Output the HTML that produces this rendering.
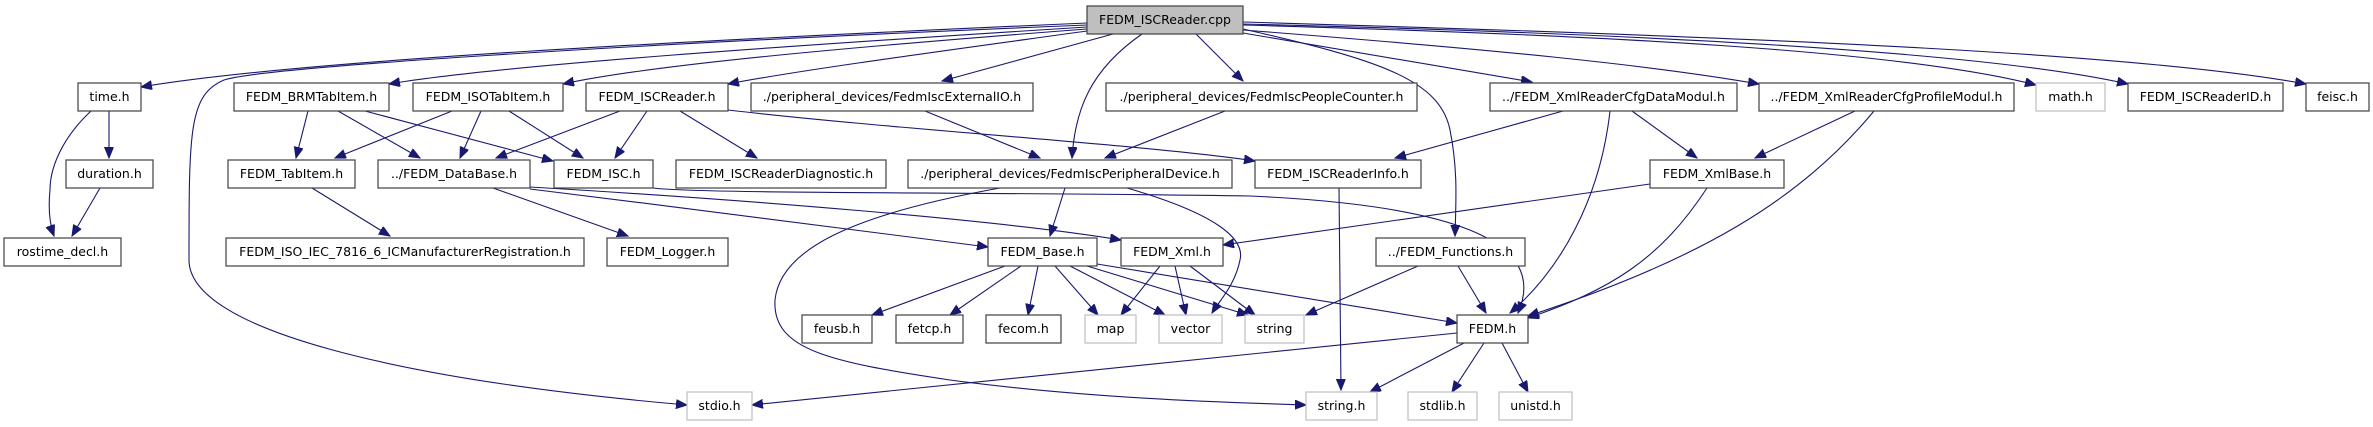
<!DOCTYPE html>
<html><head><meta charset="utf-8"><style>
html,body{margin:0;padding:0;background:#fff;}
svg{display:block;}
text{font-family:"DejaVu Sans","Liberation Sans",sans-serif;font-size:12.5px;fill:#000;}
.n{fill:#fff;stroke:#404040;stroke-width:1.2;}
.g{fill:#fff;stroke:#bfbfbf;stroke-width:1.2;}
.e{fill:none;stroke:#191970;stroke-width:1.1;}
</style></head><body>
<svg width="2373" height="427" viewBox="0 0 2373 427" xmlns="http://www.w3.org/2000/svg">
<defs>
<marker id="a" markerUnits="userSpaceOnUse" markerWidth="12" markerHeight="10" refX="11" refY="4.5" orient="auto">
<path d="M0,0 L11,4.5 L0,9 z" fill="#191970" stroke="#191970"/>
</marker>
</defs>
<g class="e" marker-end="url(#a)">
<path d="M1087,23 C700,40 300,60 141,87"/>
<path d="M1087,25 C600,45 260,68 224,80 C189,95 189,130 189,260 C189,330 400,380 687,405"/>
<path d="M1087,27 C800,45 500,65 389,84"/>
<path d="M1087,29 C850,47 650,65 563,84"/>
<path d="M1087,31 C950,50 800,70 728,84"/>
<path d="M1113,34 L942,81"/>
<path d="M1142,34 C1090,70 1075,110 1072,158"/>
<path d="M1196,34 L1243,81"/>
<path d="M1243,29 C1380,60 1440,80 1450,130 C1458,170 1456,200 1455,236"/>
<path d="M1243,33 L1532,82"/>
<path d="M1243,30 C1500,50 1650,65 1759,84"/>
<path d="M1243,25 C1600,35 1900,50 2036,85"/>
<path d="M1243,24 C1700,35 2000,55 2128,84"/>
<path d="M1243,22 C1800,38 2150,55 2306,84"/>
<path d="M109,111 L109,158"/>
<path d="M91,111 C60,140 50,170 50,190 C48,210 50,225 54,236"/>
<path d="M100,188 L72,236"/>
<path d="M308,111 L296,158"/>
<path d="M338,111 L420,158"/>
<path d="M365,111 L553,161"/>
<path d="M452,111 L335,158"/>
<path d="M481,111 L460,158"/>
<path d="M509,111 L583,158"/>
<path d="M620,111 L496,158"/>
<path d="M647,111 L615,158"/>
<path d="M680,111 L757,158"/>
<path d="M728,110 C900,130 1150,145 1255,161"/>
<path d="M312,188 L390,236"/>
<path d="M493,188 L628,236"/>
<path d="M530,189 C700,210 900,235 988,247"/>
<path d="M530,187 C750,200 1000,220 1121,240"/>
<path d="M925,111 L1040,158"/>
<path d="M1225,111 L1105,158"/>
<path d="M1065,188 L1050,236"/>
<path d="M1000,188 C850,215 780,250 775,300 C772,350 830,362 950,380 C1100,400 1250,403 1306,405"/>
<path d="M1127,188 C1220,215 1245,240 1240,260 C1235,285 1220,300 1212,313"/>
<path d="M1339,188 L1341,390"/>
<path d="M1563,111 L1395,158"/>
<path d="M1632,111 L1697,158"/>
<path d="M1610,111 C1600,200 1560,270 1510,313"/>
<path d="M1855,111 L1755,158"/>
<path d="M1874,111 C1800,200 1700,260 1528,316"/>
<path d="M1650,184 L1223,245"/>
<path d="M1707,188 C1660,260 1610,290 1528,318"/>
<path d="M653,188 C700,194 1000,192 1250,196 C1450,205 1550,240 1518,313"/>
<path d="M1005,266 L872,315"/>
<path d="M1021,266 L950,315"/>
<path d="M1038,266 L1028,315"/>
<path d="M1055,266 L1098,315"/>
<path d="M1070,266 L1165,315"/>
<path d="M1087,266 L1248,315"/>
<path d="M1097,264 L1457,323"/>
<path d="M1160,266 L1121,315"/>
<path d="M1175,266 L1186,315"/>
<path d="M1190,266 L1255,315"/>
<path d="M1418,266 L1306,315"/>
<path d="M1458,266 L1486,313"/>
<path d="M1464,343 L1370,392"/>
<path d="M1484,343 L1452,392"/>
<path d="M1502,343 L1528,392"/>
<path d="M1457,333 L752,405"/>
</g>
<g>
<rect x="1087" y="6" width="156" height="28" fill="#bfbfbf" stroke="#404040" stroke-width="1.2"/>
<text x="1165" y="24" text-anchor="middle">FEDM_ISCReader.cpp</text>
</g>
<g id="nodes">
<rect class="n" x="78" y="83" width="63" height="28"/><text x="109.5" y="101" text-anchor="middle">time.h</text>
<rect class="n" x="234" y="83" width="155" height="28"/><text x="311.5" y="101" text-anchor="middle">FEDM_BRMTabItem.h</text>
<rect class="n" x="413" y="83" width="150" height="28"/><text x="488" y="101" text-anchor="middle">FEDM_ISOTabItem.h</text>
<rect class="n" x="586" y="83" width="142" height="28"/><text x="657" y="101" text-anchor="middle">FEDM_ISCReader.h</text>
<rect class="n" x="751" y="83" width="282" height="28"/><text x="892" y="101" text-anchor="middle">./peripheral_devices/FedmIscExternalIO.h</text>
<rect class="n" x="1106" y="83" width="311" height="28"/><text x="1261.5" y="101" text-anchor="middle">./peripheral_devices/FedmIscPeopleCounter.h</text>
<rect class="n" x="1490" y="83" width="247" height="28"/><text x="1613.5" y="101" text-anchor="middle">../FEDM_XmlReaderCfgDataModul.h</text>
<rect class="n" x="1759" y="83" width="255" height="28"/><text x="1886.5" y="101" text-anchor="middle">../FEDM_XmlReaderCfgProfileModul.h</text>
<rect class="g" x="2036" y="83" width="69" height="28"/><text x="2070.5" y="101" text-anchor="middle">math.h</text>
<rect class="n" x="2128" y="83" width="155" height="28"/><text x="2205.5" y="101" text-anchor="middle">FEDM_ISCReaderID.h</text>
<rect class="n" x="2306" y="83" width="63" height="28"/><text x="2337.5" y="101" text-anchor="middle">feisc.h</text>

<rect class="n" x="66" y="160" width="87" height="28"/><text x="109.5" y="178" text-anchor="middle">duration.h</text>
<rect class="n" x="228" y="160" width="127" height="28"/><text x="291.5" y="178" text-anchor="middle">FEDM_TabItem.h</text>
<rect class="n" x="378" y="160" width="152" height="28"/><text x="454" y="178" text-anchor="middle">../FEDM_DataBase.h</text>
<rect class="n" x="554" y="160" width="99" height="28"/><text x="603.5" y="178" text-anchor="middle">FEDM_ISC.h</text>
<rect class="n" x="676" y="160" width="210" height="28"/><text x="781" y="178" text-anchor="middle">FEDM_ISCReaderDiagnostic.h</text>
<rect class="n" x="908" y="160" width="324" height="28"/><text x="1070" y="178" text-anchor="middle">./peripheral_devices/FedmIscPeripheralDevice.h</text>
<rect class="n" x="1255" y="160" width="166" height="28"/><text x="1338" y="178" text-anchor="middle">FEDM_ISCReaderInfo.h</text>
<rect class="n" x="1650" y="160" width="134" height="28"/><text x="1717" y="178" text-anchor="middle">FEDM_XmlBase.h</text>

<rect class="n" x="4" y="238" width="117" height="28"/><text x="62.5" y="256" text-anchor="middle">rostime_decl.h</text>
<rect class="n" x="226" y="238" width="358" height="28"/><text x="405" y="256" text-anchor="middle">FEDM_ISO_IEC_7816_6_ICManufacturerRegistration.h</text>
<rect class="n" x="607" y="238" width="121" height="28"/><text x="667.5" y="256" text-anchor="middle">FEDM_Logger.h</text>
<rect class="n" x="988" y="238" width="109" height="28"/><text x="1042.5" y="256" text-anchor="middle">FEDM_Base.h</text>
<rect class="n" x="1121" y="238" width="102" height="28"/><text x="1172" y="256" text-anchor="middle">FEDM_Xml.h</text>
<rect class="n" x="1376" y="238" width="149" height="28"/><text x="1450.5" y="256" text-anchor="middle">../FEDM_Functions.h</text>

<rect class="n" x="802" y="315" width="70" height="28"/><text x="837" y="333" text-anchor="middle">feusb.h</text>
<rect class="n" x="896" y="315" width="67" height="28"/><text x="929.5" y="333" text-anchor="middle">fetcp.h</text>
<rect class="n" x="986" y="315" width="75" height="28"/><text x="1023.5" y="333" text-anchor="middle">fecom.h</text>
<rect class="g" x="1085" y="315" width="51" height="28"/><text x="1110.5" y="333" text-anchor="middle">map</text>
<rect class="g" x="1159" y="315" width="63" height="28"/><text x="1190.5" y="333" text-anchor="middle">vector</text>
<rect class="g" x="1245" y="315" width="59" height="28"/><text x="1274.5" y="333" text-anchor="middle">string</text>
<rect class="n" x="1457" y="315" width="71" height="28"/><text x="1492.5" y="333" text-anchor="middle">FEDM.h</text>

<rect class="g" x="687" y="392" width="65" height="28"/><text x="719.5" y="410" text-anchor="middle">stdio.h</text>
<rect class="g" x="1306" y="392" width="71" height="28"/><text x="1341.5" y="410" text-anchor="middle">string.h</text>
<rect class="g" x="1408" y="392" width="69" height="28"/><text x="1442.5" y="410" text-anchor="middle">stdlib.h</text>
<rect class="g" x="1499" y="392" width="73" height="28"/><text x="1535.5" y="410" text-anchor="middle">unistd.h</text>
</g>
</svg>
</body></html>
